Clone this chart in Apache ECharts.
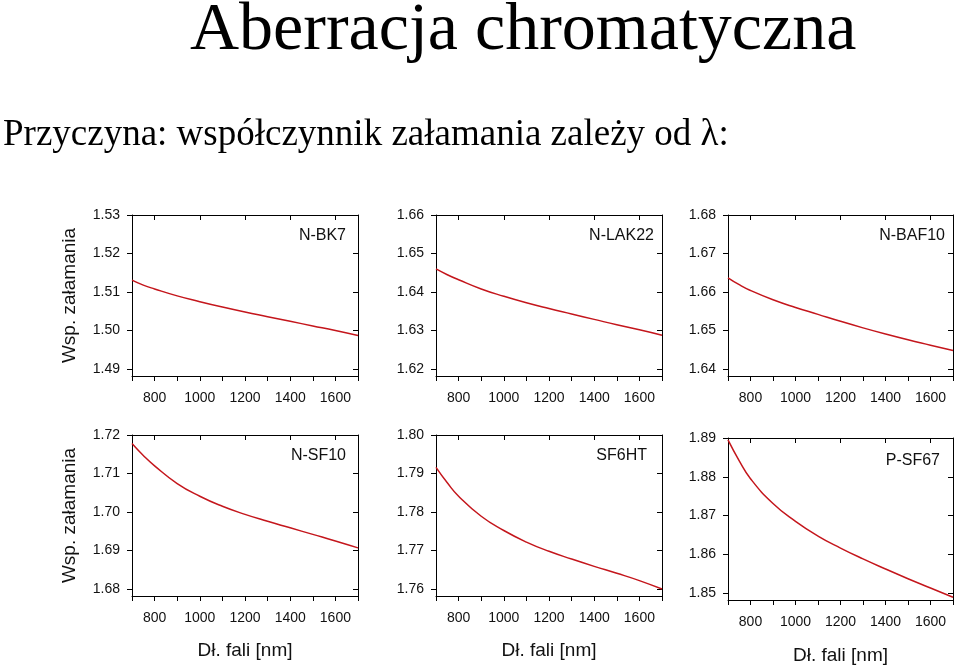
<!DOCTYPE html>
<html>
<head>
<meta charset="utf-8">
<script src="https://cdn.jsdelivr.net/npm/echarts@6/dist/echarts.min.js"></script>
<style>
html,body{margin:0;padding:0;background:#fff;}
#chart{width:960px;height:667px;}
</style>
</head>
<body>
<div id="chart"></div>
<script>
// ---- data ----
const wavelengths = [700, 750, 800, 900, 1000, 1100, 1200, 1300, 1400, 1500, 1600, 1700];
const glassNames = ['N-BK7', 'N-LAK22', 'N-BAF10', 'N-SF10', 'SF6HT', 'P-SF67'];
const nBK7   = [1.5131, 1.5118, 1.5108, 1.5090, 1.5075, 1.5061, 1.5048, 1.5036, 1.5024, 1.5012, 1.5000, 1.4987];
const nLAK22 = [1.6460, 1.6445, 1.6432, 1.6408, 1.6389, 1.6372, 1.6357, 1.6343, 1.6329, 1.6315, 1.6302, 1.6288];
const nBAF10 = [1.6637, 1.6619, 1.6604, 1.6580, 1.6560, 1.6542, 1.6524, 1.6507, 1.6491, 1.6476, 1.6462, 1.6448];
const nSF10  = [1.7178, 1.7147, 1.7120, 1.7074, 1.7041, 1.7015, 1.6994, 1.6976, 1.6959, 1.6942, 1.6925, 1.6907];
const nSF6HT = [1.7916, 1.7876, 1.7841, 1.7789, 1.7752, 1.7722, 1.7698, 1.7678, 1.7659, 1.7641, 1.7622, 1.7600];
const nPSF67 = [1.8895, 1.8841, 1.8795, 1.8731, 1.8685, 1.8647, 1.8616, 1.8588, 1.8562, 1.8537, 1.8513, 1.8489];
const xTickLabels = [800, 1000, 1200, 1400, 1600];
const yTicksBK7   = [1.49, 1.50, 1.51, 1.52, 1.53];
const yTicksLAK22 = [1.62, 1.63, 1.64, 1.65, 1.66];
const yTicksBAF10 = [1.64, 1.65, 1.66, 1.67, 1.68];
const yTicksSF10  = [1.68, 1.69, 1.70, 1.71, 1.72];
const yTicksSF6HT = [1.76, 1.77, 1.78, 1.79, 1.80];
const yTicksPSF67 = [1.85, 1.86, 1.87, 1.88, 1.89];
const yAxisTitle = 'Wsp. załamania';
const xAxisTitle = 'Dł. fali [nm]';
const mainTitle = 'Aberracja chromatyczna';
const subTitle = 'Przyczyna: współczynnik załamania zależy od λ:';

// ---- layout ----
const seriesData = [nBK7, nLAK22, nBAF10, nSF10, nSF6HT, nPSF67];
const yTicks = [yTicksBK7, yTicksLAK22, yTicksBAF10, yTicksSF10, yTicksSF6HT, yTicksPSF67];
const grids = [
  {left:132, top:215, width:226, height:161},
  {left:436, top:215, width:226, height:161},
  {left:728, top:215, width:225, height:161},
  {left:132, top:435, width:226, height:161},
  {left:436, top:435, width:226, height:161},
  {left:728, top:438, width:225, height:162}
];
const labelPos = [[346,236],[654,236],[945,236],[346,456],[647,456],[940,461]];

const SANS = 'Liberation Sans, Arial, Helvetica, sans-serif';
const SERIF = 'Liberation Serif, Times New Roman, serif';
const RED = '#c4161c';
const axisLine = {show:true, lineStyle:{color:'#000', width:1}};

const xAxes = [], yAxes = [], series = [], graphic = [];
for (let i = 0; i < 6; i++) {
  const ticks = yTicks[i];
  const ymin = ticks[0] - 0.0018;
  const ymax = ticks[ticks.length - 1];
  xAxes.push({
    type:'value', gridIndex:i, min:700, max:1700, interval:100, position:'bottom',
    axisLine, splitLine:{show:false},
    axisTick:{show:true, inside:false, length:5, lineStyle:{color:'#000', width:1}},
    axisLabel:{show:true, margin:15, fontSize:14, color:'#111', fontFamily:SANS,
      formatter: v => (xTickLabels.indexOf(v) >= 0 ? String(v) : '')},
    name: i >= 3 ? xAxisTitle : '', nameLocation:'middle', nameGap: i === 5 ? 46 : 45,
    nameTextStyle:{fontSize:19, color:'#111', fontFamily:SANS}
  });
  xAxes.push({
    type:'value', gridIndex:i, min:700, max:1700, position:'top',
    axisLine, splitLine:{show:false},
    axisTick:{show:true, inside:true, length:5, customValues:xTickLabels, lineStyle:{color:'#000', width:1}},
    axisLabel:{show:false}
  });
  yAxes.push({
    type:'value', gridIndex:i, min:ymin, max:ymax, position:'left',
    axisLine, splitLine:{show:false},
    axisTick:{show:true, inside:false, length:5, customValues:ticks, lineStyle:{color:'#000', width:1}},
    axisLabel:{show:true, margin:12, fontSize:14, color:'#111', fontFamily:SANS, customValues:ticks,
      formatter: v => Number(v).toFixed(2)},
    name: (i === 0 || i === 3) ? yAxisTitle : '', nameLocation:'middle', nameGap:53, nameRotate:90,
    nameTextStyle:{fontSize:19, color:'#111', fontFamily:SANS}
  });
  yAxes.push({
    type:'value', gridIndex:i, min:ymin, max:ymax, position:'right',
    axisLine, splitLine:{show:false},
    axisTick:{show:true, inside:true, length:5, customValues:ticks, lineStyle:{color:'#000', width:1}},
    axisLabel:{show:false}
  });
  series.push({
    type:'line', xAxisIndex:2*i, yAxisIndex:2*i, smooth:true,
    showSymbol:false, silent:true,
    lineStyle:{color:RED, width:1.5},
    data: wavelengths.map((w, j) => [w, seriesData[i][j]])
  });
  graphic.push({
    type:'text', x:labelPos[i][0], y:labelPos[i][1],
    style:{text:glassNames[i], fill:'#111', font:'16px ' + SANS, align:'right', verticalAlign:'middle'}
  });
}
graphic.push({type:'text', x:190, y:31,
  style:{text:mainTitle, fill:'#000', font:'68px ' + SERIF, align:'left', verticalAlign:'middle'}});
graphic.push({type:'text', x:3, y:135,
  style:{text:subTitle, fill:'#000', font:'37px ' + SERIF, align:'left', verticalAlign:'middle'}});

const chart = echarts.init(document.getElementById('chart'), null, {renderer:'canvas'});
chart.setOption({
  backgroundColor:'#fff',
  animation:false,
  grid: grids,
  xAxis: xAxes,
  yAxis: yAxes,
  series,
  graphic
});
</script>
</body>
</html>
